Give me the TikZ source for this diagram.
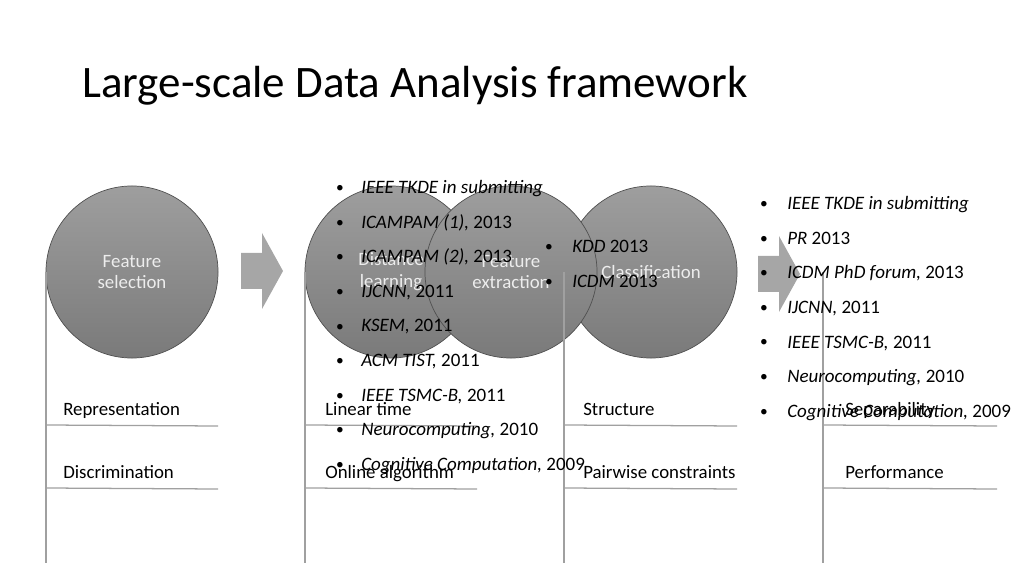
\documentclass[tikz,border=0pt]{standalone}
\usepackage{fontspec}
\setmainfont{Carlito}
\usepackage{xcolor}
\usepackage{tikz}
\usetikzlibrary{calc,positioning}
\definecolor{topg}{HTML}{9E9E9E}
\definecolor{botg}{HTML}{7A7A7A}
\definecolor{rimg}{HTML}{505050}
\definecolor{lineg}{HTML}{A0A0A0}
\definecolor{arrg}{HTML}{A6A6A6}
\definecolor{ctxt}{HTML}{EDEDED}
\tikzset{
  topic/.style={circle,draw=rimg,line width=0.5pt,top color=topg,bottom color=botg,
    minimum size=4.3cm,inner sep=0pt,align=center,text=ctxt,font=\fontsize{13.4}{15.6}\selectfont},
  rule/.style={lineg,line width=0.9pt},
  lbl/.style={anchor=base west,inner sep=0pt,font=\fontsize{13.4}{16}\selectfont},
  bul/.style={anchor=base,inner sep=0pt,font=\fontsize{11}{13}\selectfont},
  item/.style={anchor=base west,inner sep=0pt,font=\fontsize{13.5}{16}\selectfont}
}

\begin{document}
\begin{tikzpicture}[x=0.025cm,y=-0.025cm]
\useasboundingbox (0,0) rectangle (1024,576);
% title
\node[anchor=base west,inner sep=0pt,font=\fontsize{32}{38}\selectfont] (title) at (82,98) {Large-scale Data Analysis framework};
% circles
\node[topic] (fs) at (132,272) {Feature\\selection};
\node[topic] (dl) at (391,272) {Distance\\learning};
\node[topic] (cl) at (651,272) {Classification};
\node[topic] (fe) at (511,272) {Feature\\extraction};
% block arrows
\foreach \ax/\ay in {241/271,758/274}
  \fill[arrg] (\ax,\ay-18) -- ++(21,0) -- ++(0,-20) -- (\ax+42,\ay) -- (\ax+21,\ay+38) -- ++(0,-20) -- (\ax,\ay+18) -- cycle;
% columns
\foreach \cx/\cw in {46/172,305/172,564/173,823/174} {
  \coordinate (c\cx) at (\cx,272);
  \draw[rule] (c\cx) -- ++(0,291);
  \draw[rule] (\cx,425) -- ++(\cw,1);
  \draw[rule] (\cx,488) -- ++(\cw,1);
}
\node[lbl] (rep) at (63,415) {Representation};
\node[lbl] (dis) at (63,478) {Discrimination};
\node[lbl] (lin) at (325,415) {Linear time};
\node[lbl] (onl) at (325,478) {Online algorithm};
\node[lbl] (str) at (583,415) {Structure};
\node[lbl] (pwc) at (583,478) {Pairwise constraints};
\node[lbl] (sep) at (845,415) {Separability};
\node[lbl] (per) at (845,478) {Performance};
% publication lists
\foreach \txt [count=\i from 0] in {
  {\textit{IEEE TKDE in submitting}},
  {\textit{ICAMPAM (1),} 2013},
  {\textit{ICAMPAM (2),} 2013},
  {\textit{IJCNN,} 2011},
  {\textit{KSEM,} 2011},
  {\textit{ACM TIST,} 2011},
  {\textit{IEEE TSMC-B,} 2011},
  {\textit{Neurocomputing,} 2010},
  {\textit{Cognitive Computation,} 2009}} {
  \node[bul] (pa\i) at (340,{193+34.5*\i}) {\textbullet};
  \node[item] (pb\i) at (361,{194+34.5*\i}) {\txt};
}
\foreach \txt [count=\i from 0] in {
  {\textit{KDD} 2013},
  {\textit{ICDM} 2013}} {
  \node[bul] (qa\i) at (549,{252+34.5*\i}) {\textbullet};
  \node[item] (qb\i) at (572,{253+34.5*\i}) {\txt};
}
\foreach \txt [count=\i from 0] in {
  {\textit{IEEE TKDE in submitting}},
  {\textit{PR} 2013},
  {\textit{ICDM PhD forum,} 2013},
  {\textit{IJCNN,} 2011},
  {\textit{IEEE TSMC-B,} 2011},
  {\textit{Neurocomputing,} 2010},
  {\textit{Cognitive Computation,} 2009}} {
  \node[bul] (ra\i) at (764,{209+34.5*\i}) {\textbullet};
  \node[item] (rb\i) at (787,{210+34.5*\i}) {\txt};
}
\end{tikzpicture}
\end{document}
